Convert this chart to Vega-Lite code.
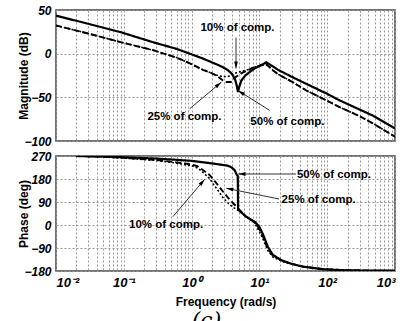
{
  "$schema": "https://vega.github.io/schema/vega-lite/v6.json",
  "background": "white",
  "padding": {"left": 17, "top": 3, "right": 5, "bottom": 0},
  "title": {"text": "(c)", "orient": "bottom", "anchor": "middle", "font": "DejaVu Serif", "fontStyle": "italic", "fontWeight": "normal", "fontSize": 22, "offset": 3, "color": "#000"},
  "datasets": {
    "mag": [
      {"s": "50%", "f": 0.01, "v": 43.5}, {"s": "50%", "f": 0.03, "v": 34.2}, {"s": "50%", "f": 0.09, "v": 24.6},
      {"s": "50%", "f": 0.27, "v": 13.1}, {"s": "50%", "f": 0.6, "v": 5.5}, {"s": "50%", "f": 0.94, "v": 0},
      {"s": "50%", "f": 1.47, "v": -5.6}, {"s": "50%", "f": 2, "v": -10}, {"s": "50%", "f": 2.5, "v": -13.2},
      {"s": "50%", "f": 2.9, "v": -15.5}, {"s": "50%", "f": 3.44, "v": -19}, {"s": "50%", "f": 3.8, "v": -22},
      {"s": "50%", "f": 4.08, "v": -25}, {"s": "50%", "f": 4.4, "v": -30}, {"s": "50%", "f": 4.65, "v": -37},
      {"s": "50%", "f": 4.83, "v": -44}, {"s": "50%", "f": 5.0, "v": -39}, {"s": "50%", "f": 5.41, "v": -30.8},
      {"s": "50%", "f": 6.2, "v": -25}, {"s": "50%", "f": 7.19, "v": -21}, {"s": "50%", "f": 8.5, "v": -17},
      {"s": "50%", "f": 10, "v": -14}, {"s": "50%", "f": 11.97, "v": -11}, {"s": "50%", "f": 12.6, "v": -9.8},
      {"s": "50%", "f": 14.2, "v": -12.5}, {"s": "50%", "f": 15.8, "v": -14.5}, {"s": "50%", "f": 18.8, "v": -18.5},
      {"s": "50%", "f": 30, "v": -26.5}, {"s": "50%", "f": 49, "v": -34.5}, {"s": "50%", "f": 100, "v": -46},
      {"s": "50%", "f": 153, "v": -53.6}, {"s": "50%", "f": 300, "v": -64}, {"s": "50%", "f": 474, "v": -71},
      {"s": "50%", "f": 1000, "v": -85.5},

      {"s": "25%", "f": 0.01, "v": 32.3}, {"s": "25%", "f": 0.03, "v": 23}, {"s": "25%", "f": 0.09, "v": 13.2},
      {"s": "25%", "f": 0.27, "v": 4}, {"s": "25%", "f": 0.6, "v": -4.5}, {"s": "25%", "f": 0.94, "v": -11},
      {"s": "25%", "f": 1.47, "v": -18.5}, {"s": "25%", "f": 2, "v": -22.5}, {"s": "25%", "f": 2.31, "v": -25},
      {"s": "25%", "f": 2.9, "v": -30.8}, {"s": "25%", "f": 3.2, "v": -32.5}, {"s": "25%", "f": 3.8, "v": -32.5},
      {"s": "25%", "f": 4.08, "v": -29}, {"s": "25%", "f": 4.83, "v": -25}, {"s": "25%", "f": 5.73, "v": -21.5},
      {"s": "25%", "f": 7.19, "v": -18}, {"s": "25%", "f": 8.05, "v": -16}, {"s": "25%", "f": 10, "v": -14},
      {"s": "25%", "f": 12, "v": -12.6}, {"s": "25%", "f": 12.6, "v": -12.4}, {"s": "25%", "f": 14.2, "v": -15.5},
      {"s": "25%", "f": 15.8, "v": -19}, {"s": "25%", "f": 18.8, "v": -23.5}, {"s": "25%", "f": 30, "v": -32},
      {"s": "25%", "f": 49, "v": -42}, {"s": "25%", "f": 100, "v": -54}, {"s": "25%", "f": 153, "v": -61.3},
      {"s": "25%", "f": 300, "v": -71.5}, {"s": "25%", "f": 474, "v": -80}, {"s": "25%", "f": 1000, "v": -95},

      {"s": "10%", "f": 0.01, "v": 32.3}, {"s": "10%", "f": 0.03, "v": 23}, {"s": "10%", "f": 0.09, "v": 13.2},
      {"s": "10%", "f": 0.27, "v": 4}, {"s": "10%", "f": 0.6, "v": -4.5}, {"s": "10%", "f": 0.94, "v": -11},
      {"s": "10%", "f": 1.47, "v": -18.5}, {"s": "10%", "f": 2, "v": -22.5}, {"s": "10%", "f": 2.31, "v": -24.5},
      {"s": "10%", "f": 2.9, "v": -26.5}, {"s": "10%", "f": 3.44, "v": -26}, {"s": "10%", "f": 4.08, "v": -23.5},
      {"s": "10%", "f": 4.7, "v": -21.5}, {"s": "10%", "f": 5.73, "v": -20}, {"s": "10%", "f": 7.19, "v": -17.8},
      {"s": "10%", "f": 8.05, "v": -16}, {"s": "10%", "f": 10, "v": -14}, {"s": "10%", "f": 12, "v": -12.6},
      {"s": "10%", "f": 12.6, "v": -12.4}, {"s": "10%", "f": 14.2, "v": -15.5}, {"s": "10%", "f": 15.8, "v": -19},
      {"s": "10%", "f": 18.8, "v": -23.5}, {"s": "10%", "f": 30, "v": -32}, {"s": "10%", "f": 49, "v": -42},
      {"s": "10%", "f": 100, "v": -54}, {"s": "10%", "f": 153, "v": -61.3}, {"s": "10%", "f": 300, "v": -71.5},
      {"s": "10%", "f": 474, "v": -80}, {"s": "10%", "f": 1000, "v": -95}
    ],
    "phase": [
      {"s": "50%", "f": 0.02, "v": 270}, {"s": "50%", "f": 0.05, "v": 268}, {"s": "50%", "f": 0.1, "v": 265},
      {"s": "50%", "f": 0.3, "v": 260}, {"s": "50%", "f": 0.6, "v": 255}, {"s": "50%", "f": 1, "v": 251},
      {"s": "50%", "f": 2, "v": 241}, {"s": "50%", "f": 3.44, "v": 232}, {"s": "50%", "f": 3.9, "v": 225},
      {"s": "50%", "f": 4.3, "v": 215}, {"s": "50%", "f": 4.65, "v": 196}, {"s": "50%", "f": 4.8, "v": 192},
      {"s": "50%", "f": 4.85, "v": 60}, {"s": "50%", "f": 5.5, "v": 48}, {"s": "50%", "f": 6.3, "v": 33},
      {"s": "50%", "f": 7.2, "v": 24}, {"s": "50%", "f": 8.5, "v": 13}, {"s": "50%", "f": 10, "v": -7},
      {"s": "50%", "f": 11.4, "v": -39}, {"s": "50%", "f": 13.3, "v": -85}, {"s": "50%", "f": 15.8, "v": -117},
      {"s": "50%", "f": 22, "v": -140}, {"s": "50%", "f": 30, "v": -152}, {"s": "50%", "f": 44, "v": -163},
      {"s": "50%", "f": 87, "v": -173}, {"s": "50%", "f": 180, "v": -177}, {"s": "50%", "f": 400, "v": -178.5},
      {"s": "50%", "f": 1000, "v": -179},

      {"s": "25%", "f": 0.02, "v": 270}, {"s": "25%", "f": 0.05, "v": 267}, {"s": "25%", "f": 0.1, "v": 263},
      {"s": "25%", "f": 0.32, "v": 254}, {"s": "25%", "f": 0.6, "v": 245}, {"s": "25%", "f": 1, "v": 237},
      {"s": "25%", "f": 1.22, "v": 230}, {"s": "25%", "f": 1.47, "v": 215}, {"s": "25%", "f": 1.84, "v": 196},
      {"s": "25%", "f": 2.07, "v": 180}, {"s": "25%", "f": 2.5, "v": 153}, {"s": "25%", "f": 2.9, "v": 131},
      {"s": "25%", "f": 3.44, "v": 107}, {"s": "25%", "f": 4.1, "v": 85}, {"s": "25%", "f": 4.85, "v": 65},
      {"s": "25%", "f": 5.5, "v": 50}, {"s": "25%", "f": 6.3, "v": 34}, {"s": "25%", "f": 7.2, "v": 24.5},
      {"s": "25%", "f": 8.5, "v": 11}, {"s": "25%", "f": 10, "v": -15}, {"s": "25%", "f": 11.4, "v": -48},
      {"s": "25%", "f": 13.3, "v": -93}, {"s": "25%", "f": 15.8, "v": -120}, {"s": "25%", "f": 22, "v": -141},
      {"s": "25%", "f": 30, "v": -152}, {"s": "25%", "f": 44, "v": -163}, {"s": "25%", "f": 87, "v": -173},
      {"s": "25%", "f": 180, "v": -177}, {"s": "25%", "f": 400, "v": -178.5}, {"s": "25%", "f": 1000, "v": -179},

      {"s": "10%", "f": 0.02, "v": 270}, {"s": "10%", "f": 0.05, "v": 267}, {"s": "10%", "f": 0.1, "v": 262},
      {"s": "10%", "f": 0.32, "v": 252}, {"s": "10%", "f": 0.6, "v": 242}, {"s": "10%", "f": 1, "v": 232},
      {"s": "10%", "f": 1.22, "v": 223}, {"s": "10%", "f": 1.47, "v": 206}, {"s": "10%", "f": 1.84, "v": 182},
      {"s": "10%", "f": 2.07, "v": 162}, {"s": "10%", "f": 2.5, "v": 132}, {"s": "10%", "f": 2.9, "v": 107},
      {"s": "10%", "f": 3.44, "v": 86}, {"s": "10%", "f": 4.1, "v": 69}, {"s": "10%", "f": 4.85, "v": 57},
      {"s": "10%", "f": 5.5, "v": 48}, {"s": "10%", "f": 6.3, "v": 34}, {"s": "10%", "f": 7.2, "v": 24},
      {"s": "10%", "f": 8.5, "v": 8}, {"s": "10%", "f": 10, "v": -25}, {"s": "10%", "f": 11.4, "v": -57},
      {"s": "10%", "f": 13.3, "v": -100}, {"s": "10%", "f": 15.8, "v": -125}, {"s": "10%", "f": 22, "v": -143},
      {"s": "10%", "f": 30, "v": -153}, {"s": "10%", "f": 44, "v": -163}, {"s": "10%", "f": 87, "v": -173},
      {"s": "10%", "f": 180, "v": -177}, {"s": "10%", "f": 400, "v": -178.5}, {"s": "10%", "f": 1000, "v": -179}
    ],
    "magNotes": [
      {"t": "10% of comp.", "f": 4.75, "v": 29, "f0": 4.52, "v0": 18.5, "f1": 4.52, "v1": -17},
      {"t": "25% of comp.", "f": 0.785, "v": -73, "f0": 0.94, "v0": -63, "f1": 2.74, "v1": -32.7},
      {"t": "50% of comp.", "f": 25.9, "v": -77.7, "f0": 14.2, "v0": -65, "f1": 4.83, "v1": -42.2}
    ],
    "phaseNotes": [
      {"t": "50% of comp.", "f": 126, "v": 196, "f0": 34.7, "v0": 199.6, "f1": 4.9, "v1": 199.6},
      {"t": "25% of comp.", "f": 74.8, "v": 98, "f0": 19.5, "v0": 101.8, "f1": 3.25, "v1": 143.6},
      {"t": "10% of comp.", "f": 0.42, "v": 0, "f0": 0.53, "v0": 32.5, "f1": 1.56, "v1": 178.8}
    ]
  },
  "spacing": 1,
  "vconcat": [
    {
      "width": 339,
      "height": 131,
      "layer": [
        {
          "data": {"name": "mag"},
          "mark": {"type": "line", "clip": true, "color": "#000"},
          "encoding": {
            "x": {"field": "f", "type": "quantitative",
              "scale": {"type": "log", "domain": [0.01, 1000], "nice": false},
              "axis": {"title": null, "labels": false, "minExtent": 0,
                "values": [0.01,0.02,0.03,0.04,0.05,0.06,0.07,0.08,0.09,0.1,0.2,0.3,0.4,0.5,0.6,0.7,0.8,0.9,1,2,3,4,5,6,7,8,9,10,20,30,40,50,60,70,80,90,100,200,300,400,500,600,700,800,900,1000]}},
            "y": {"field": "v", "type": "quantitative",
              "scale": {"domain": [-100, 50], "nice": false},
              "axis": {"title": "Magnitude  (dB)", "values": [-100, -50, 0, 50], "labelOverlap": false, "labelPadding": 5, "titlePadding": -7}},
            "strokeDash": {"field": "s", "type": "nominal", "scale": {"domain": ["50%", "25%", "10%"], "range": [[1, 0], [6, 3], [2, 2]]}, "legend": null},
            "strokeWidth": {"field": "s", "type": "nominal", "scale": {"domain": ["50%", "25%", "10%"], "range": [2.2, 1.6, 1.6]}, "legend": null}
          }
        },
        {
          "data": {"name": "magNotes"},
          "mark": {"type": "rule", "color": "#333", "strokeWidth": 1},
          "encoding": {
            "x": {"field": "f0", "type": "quantitative"},
            "x2": {"field": "f1"},
            "y": {"field": "v0", "type": "quantitative"},
            "y2": {"field": "v1"}
          }
        },
        {
          "data": {"name": "magNotes"},
          "transform": [
            {"calculate": "atan2((log(datum.f1) - log(datum.f0)) / LN10 * 339 / 5, (datum.v1 - datum.v0) * 131 / 150) * 180 / PI", "as": "heading"}
          ],
          "mark": {"type": "point", "filled": true, "color": "#000", "opacity": 1, "size": 90, "shape": "M0,0L-0.4,1.5L0.4,1.5Z"},
          "encoding": {
            "x": {"field": "f1", "type": "quantitative"},
            "y": {"field": "v1", "type": "quantitative"},
            "angle": {"field": "heading", "type": "quantitative", "scale": null}
          }
        },
        {
          "data": {"name": "magNotes"},
          "mark": {"type": "text", "font": "Liberation Sans", "fontWeight": "bold", "fontSize": 11.5, "color": "#000", "align": "center", "baseline": "middle"},
          "encoding": {
            "x": {"field": "f", "type": "quantitative"},
            "y": {"field": "v", "type": "quantitative"},
            "text": {"field": "t"}
          }
        }
      ]
    },
    {
      "width": 339,
      "height": 115,
      "layer": [
        {
          "data": {"name": "phase"},
          "mark": {"type": "line", "clip": true, "color": "#000"},
          "encoding": {
            "x": {"field": "f", "type": "quantitative",
              "scale": {"type": "log", "domain": [0.01, 1000], "nice": false},
              "axis": {"title": "Frequency  (rad/s)", "labelPadding": 5, "titlePadding": 7, "labelOverlap": false, "labelFontSize": 13,
                "values": [0.01,0.02,0.03,0.04,0.05,0.06,0.07,0.08,0.09,0.1,0.2,0.3,0.4,0.5,0.6,0.7,0.8,0.9,1,2,3,4,5,6,7,8,9,10,20,30,40,50,60,70,80,90,100,200,300,400,500,600,700,800,900,1000],
                "labelExpr": "datum.value == 0.01 ? '10⁻²' : datum.value == 0.1 ? '10⁻¹' : datum.value == 1 ? '10⁰' : datum.value == 10 ? '10¹' : datum.value == 100 ? '10²' : datum.value == 1000 ? '10³' : ''"}},
            "y": {"field": "v", "type": "quantitative",
              "scale": {"domain": [-180, 270], "nice": false},
              "axis": {"title": "Phase  (deg)", "values": [-180, -90, 0, 90, 180, 270], "labelOverlap": false, "labelPadding": 5, "titlePadding": -7}},
            "strokeDash": {"field": "s", "type": "nominal", "scale": {"domain": ["50%", "25%", "10%"], "range": [[1, 0], [6, 3], [2, 2]]}, "legend": null},
            "strokeWidth": {"field": "s", "type": "nominal", "scale": {"domain": ["50%", "25%", "10%"], "range": [2.2, 1.6, 1.6]}, "legend": null}
          }
        },
        {
          "data": {"name": "phaseNotes"},
          "mark": {"type": "rule", "color": "#333", "strokeWidth": 1},
          "encoding": {
            "x": {"field": "f0", "type": "quantitative"},
            "x2": {"field": "f1"},
            "y": {"field": "v0", "type": "quantitative", "axis": {"title": "Phase  (deg)", "values": [-180, -90, 0, 90, 180, 270], "labelOverlap": false, "labelPadding": 5, "titlePadding": -7}},
            "y2": {"field": "v1"}
          }
        },
        {
          "data": {"name": "phaseNotes"},
          "transform": [
            {"calculate": "atan2((log(datum.f1) - log(datum.f0)) / LN10 * 339 / 5, (datum.v1 - datum.v0) * 115 / 450) * 180 / PI", "as": "heading"}
          ],
          "mark": {"type": "point", "filled": true, "color": "#000", "opacity": 1, "size": 90, "shape": "M0,0L-0.4,1.5L0.4,1.5Z"},
          "encoding": {
            "x": {"field": "f1", "type": "quantitative"},
            "y": {"field": "v1", "type": "quantitative", "axis": {"title": "Phase  (deg)", "values": [-180, -90, 0, 90, 180, 270], "labelOverlap": false, "labelPadding": 5, "titlePadding": -7}},
            "angle": {"field": "heading", "type": "quantitative", "scale": null}
          }
        },
        {
          "data": {"name": "phaseNotes"},
          "mark": {"type": "text", "font": "Liberation Sans", "fontWeight": "bold", "fontSize": 11.5, "color": "#000", "align": "center", "baseline": "middle"},
          "encoding": {
            "x": {"field": "f", "type": "quantitative"},
            "y": {"field": "v", "type": "quantitative", "axis": {"title": "Phase  (deg)", "values": [-180, -90, 0, 90, 180, 270], "labelOverlap": false, "labelPadding": 5, "titlePadding": -7}},
            "text": {"field": "t"}
          }
        }
      ]
    }
  ],
  "config": {
    "font": "Liberation Sans",
    "view": {"stroke": "#444", "strokeWidth": 1.5},
    "axis": {
      "grid": true, "gridColor": "#999", "gridDash": [2, 2], "gridWidth": 1,
      "ticks": false, "domain": false, "labelOverlap": false,
      "labelFont": "Liberation Sans", "labelFontSize": 12, "labelFontWeight": "bold", "labelFontStyle": "italic", "labelColor": "#000",
      "titleFont": "Liberation Sans", "titleFontSize": 12, "titleFontWeight": "bold", "titleColor": "#000"
    }
  }
}
